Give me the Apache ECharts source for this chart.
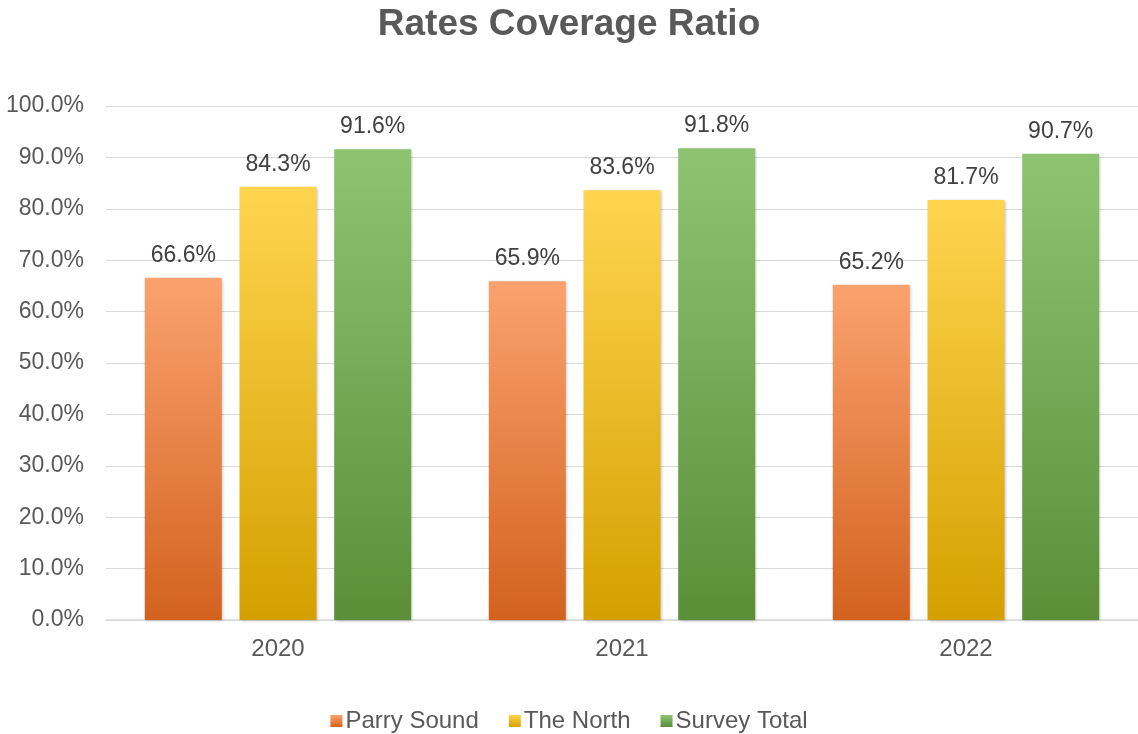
<!DOCTYPE html>
<html>
<head>
<meta charset="utf-8">
<script src="https://cdn.jsdelivr.net/npm/echarts@6/dist/echarts.min.js"></script>
<style>
  html, body { margin: 0; padding: 0; background: #fff; }
  #chart { width: 1138px; height: 734px; }
</style>
</head>
<body>
<div id="chart"></div>
<script>
// Rates coverage ratio by year (percent)
const years = ['2020', '2021', '2022'];
const parrySound = [66.6, 65.9, 65.2];
const theNorth = [84.3, 83.6, 81.7];
const surveyTotal = [91.6, 91.8, 90.7];
const seriesNames = ['Parry Sound', 'The North', 'Survey Total'];

function grad(top, bottom) {
  return new echarts.graphic.LinearGradient(0, 0, 0, 1, [
    { offset: 0, color: top },
    { offset: 1, color: bottom }
  ]);
}

const palettes = [
  ['#FAA26E', '#D3621E'],
  ['#FFD44F', '#D4A000'],
  ['#8EC471', '#5A8F38']
];

const fontFamily = 'Liberation Sans, Arial, sans-serif';

function makeSeries(name, data, pal) {
  return {
    name: name,
    type: 'bar',
    data: data,
    barWidth: 77,
    barGap: '23%',
    itemStyle: {
      color: grad(pal[0], pal[1]),
      shadowColor: 'rgba(0,0,0,0.25)',
      shadowBlur: 3,
      shadowOffsetX: 1,
      shadowOffsetY: 1
    },
    label: {
      show: true,
      position: 'top',
      distance: 11,
      formatter: p => p.value.toFixed(1) + '%',
      color: '#404040',
      fontSize: 23,
      fontFamily: fontFamily
    }
  };
}

const chart = echarts.init(document.getElementById('chart'));
chart.setOption({
  animation: false,
  title: {
    text: 'Rates Coverage Ratio',
    left: 'center',
    top: 1,
    textStyle: { fontSize: 37, fontWeight: 'bold', color: '#595959', fontFamily: fontFamily }
  },
  legend: {
    top: 704,
    left: 'center',
    itemWidth: 12,
    itemHeight: 12,
    itemGap: 30,
    icon: 'rect',
    textStyle: { fontSize: 24, color: '#595959', fontFamily: fontFamily, padding: [0, 0, 0, -2] },
    data: seriesNames
  },
  grid: { left: 106, right: 0, top: 106, bottom: 114 },
  xAxis: {
    type: 'category',
    data: years,
    axisTick: { show: false },
    axisLine: { lineStyle: { color: '#d9d9d9', width: 1.5 } },
    axisLabel: { fontSize: 24, color: '#595959', fontFamily: fontFamily, margin: 17 }
  },
  yAxis: {
    type: 'value',
    min: 0,
    max: 100,
    interval: 10,
    axisLabel: {
      fontSize: 23, color: '#595959', fontFamily: fontFamily, margin: 22,
      formatter: v => v.toFixed(1) + '%'
    },
    splitLine: { lineStyle: { color: '#d9d9d9', width: 1 } }
  },
  series: [
    makeSeries(seriesNames[0], parrySound, palettes[0]),
    makeSeries(seriesNames[1], theNorth, palettes[1]),
    makeSeries(seriesNames[2], surveyTotal, palettes[2])
  ]
});
</script>
</body>
</html>
